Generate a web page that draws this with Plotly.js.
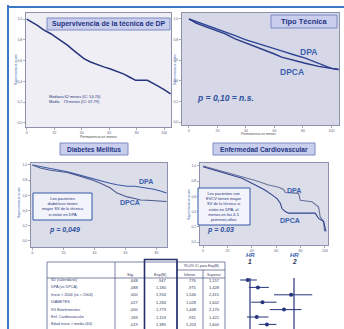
<!DOCTYPE html>
<html><head><meta charset="utf-8">
<script src="https://cdn.plot.ly/plotly-3.0.1.min.js"></script>
<style>html,body{margin:0;padding:0;background:#fff}#chart{width:344px;height:329px}</style>
</head><body><div id="chart"></div>
<script>
// ---------- DATA ----------
// Panel 1: Supervivencia de la técnica de DP
const p1Months = [0, 4, 7.8, 12, 17.5, 23, 29.6, 35, 41.7, 46, 51.4, 56, 61, 66, 70.8, 75, 79.3, 87.8, 91, 95, 100, 104.7];
const p1Surv   = [1.0, 0.97, 0.94, 0.90, 0.86, 0.81, 0.75, 0.69, 0.62, 0.59, 0.56, 0.54, 0.52, 0.495, 0.47, 0.44, 0.41, 0.41, 0.39, 0.36, 0.32, 0.28];
const p1Median = "Mediana 62 meses (IC: 54-70)";
const p1Mean   = "Media&nbsp;&nbsp;&nbsp;&nbsp;73 meses (IC: 67-79)";

// Panel 2: Tipo Técnica
const p2DpaMonths  = [0, 5, 11.5, 18, 25.5, 32, 39.5, 46, 53.5, 60, 65, 73, 81.6, 91, 100, 105];
const p2DpaSurv    = [1.0, 0.975, 0.95, 0.91, 0.876, 0.84, 0.80, 0.77, 0.74, 0.71, 0.69, 0.655, 0.62, 0.57, 0.52, 0.51];
const p2DpcaMonths = [0, 5, 11.5, 18, 25.5, 32, 39.5, 46, 53.5, 60, 65, 73, 81.6, 91, 100, 105];
const p2DpcaSurv   = [1.0, 0.96, 0.926, 0.89, 0.855, 0.81, 0.77, 0.735, 0.70, 0.66, 0.63, 0.60, 0.57, 0.54, 0.52, 0.51];

// Panel 3: Diabetes Mellitus
const p3DpaMonths  = [0, 5, 11.6, 17, 22.4, 28, 33.1, 39, 43.9, 50, 54.6, 61.1, 66, 69.7, 74, 78.3, 82, 86.5];
const p3DpaSurv    = [1.0, 0.98, 0.96, 0.935, 0.91, 0.88, 0.85, 0.82, 0.79, 0.76, 0.74, 0.72, 0.72, 0.71, 0.70, 0.68, 0.66, 0.63];
const p3DpcaMonths = [0, 5, 11.6, 17, 22.4, 28, 33.1, 39, 43.9, 50, 54.6, 58, 61.1, 66, 69.7, 74, 78.3, 86.5];
const p3DpcaSurv   = [1.0, 0.96, 0.93, 0.915, 0.90, 0.87, 0.84, 0.80, 0.76, 0.70, 0.63, 0.60, 0.58, 0.56, 0.54, 0.535, 0.53, 0.52];

// Panel 4: Enfermedad Cardiovascular
const p4DpaMonths  = [0, 10.1, 21, 32, 42.9, 53.8, 62, 66.1, 67.5, 78.4, 79.8, 89.3, 94.8, 96.1, 98.9, 99.7];
const p4DpaSurv    = [1.0, 0.957, 0.91, 0.86, 0.81, 0.75, 0.72, 0.69, 0.65, 0.64, 0.55, 0.53, 0.46, 0.33, 0.27, 0.14];
const p4DpcaMonths = [0, 10.1, 21, 32, 42.9, 51.1, 56.6, 60.7, 63.4, 64.8, 67.5, 70.2, 92, 94.8, 98.9, 100.8];
const p4DpcaSurv   = [0.99, 0.94, 0.89, 0.84, 0.75, 0.68, 0.62, 0.57, 0.51, 0.44, 0.40, 0.38, 0.38, 0.31, 0.27, 0.14];

// Tick labels
const monthTicks = [0, 20, 40, 60, 80, 100];
const monthTickText = ["0", "20", "40", "60", "80", "100"];
const survTicks = [0, 0.2, 0.4, 0.6, 0.8, 1.0];
const survTickText = ["0,0", "0,2", "0,4", "0,6", "0,8", "1,0"];

// Cox table
const coxVars  = ["IID (calendario)", "DPA (vs DPCA)", "Inicio < 2004 (vs > 2004)", "DIABETES", "IIG Bioelementos", "Enf. Cardiovascular", "Edad inicio > media (60)"];
const coxSig   = [0.648, 0.088, 0.000, 0.027, 0.000, 0.183, 0.019];
const coxExpB  = [0.947, 1.180, 1.934, 1.284, 1.773, 1.153, 1.385];
const coxLow   = [0.776, 0.975, 1.546, 1.028, 1.448, 0.931, 1.203];
const coxHigh  = [1.157, 1.428, 2.415, 1.602, 2.170, 1.421, 1.600];
const hrRefs   = [1, 2];

// ---------- STYLE / HELPERS ----------
const W = 344, H = 329;
const P = x => x / W;
const Q = y => 1 - y / H;
const NAVY = '#26347c';
const LBL = '#3a60ad';
const FONT = 'Liberation Sans, Arial, sans-serif';
const fmt = v => v.toFixed(3).replace('.', ',').replace(/^0/, '');

function xax(d0, d1, range, anchor, vals, text) {
  return {domain: [P(d0), P(d1)], range: range, anchor: anchor, tickvals: vals, ticktext: text,
    showgrid: false, zeroline: false, showline: true, mirror: true, linecolor: '#8e91ab', linewidth: 1,
    ticks: 'outside', ticklen: 2, tickwidth: 0.6, tickcolor: '#777', tickfont: {size: 3.5, color: '#5d6280'}};
}
function yax(top, bottom, range, anchor, vals, text) {
  return {domain: [Q(bottom), Q(top)], range: range, anchor: anchor, tickvals: vals, ticktext: text,
    showgrid: false, zeroline: false, showline: true, mirror: true, linecolor: '#8e91ab', linewidth: 1,
    ticks: 'outside', ticklen: 2, tickwidth: 0.6, tickcolor: '#777', tickfont: {size: 3.5, color: '#5d6280'}};
}
function line(x, y, xa, ya, color, w) {
  return {type: 'scatter', mode: 'lines', x: x, y: y, xaxis: xa, yaxis: ya, line: {color: color, width: w}, hoverinfo: 'skip'};
}

const traces = [
  line(p1Months, p1Surv, 'x', 'y', NAVY, 1.5),
  line(p2DpaMonths, p2DpaSurv, 'x2', 'y2', '#2d4596', 1.4),
  line(p2DpcaMonths, p2DpcaSurv, 'x2', 'y2', '#2a3a88', 1.4),
  line(p3DpaMonths, p3DpaSurv, 'x3', 'y3', '#3b5aa6', 1.1),
  line(p3DpcaMonths, p3DpcaSurv, 'x3', 'y3', '#4c5a8e', 1.1),
  line(p4DpaMonths, p4DpaSurv, 'x4', 'y4', '#6a739a', 1.1),
  line(p4DpcaMonths, p4DpcaSurv, 'x4', 'y4', '#34448e', 1.1),
  {type: 'scatter', mode: 'markers', x: coxExpB, y: coxVars.map((_, i) => i), xaxis: 'x5', yaxis: 'y5',
   marker: {color: NAVY, size: 4},
   error_x: {type: 'data', symmetric: false, array: coxHigh.map((h, i) => h - coxExpB[i]),
             arrayminus: coxExpB.map((e, i) => e - coxLow[i]), width: 0, thickness: 1, color: NAVY},
   hoverinfo: 'skip'}
];

const shapes = [];
const ann = [];
// frame
shapes.push({type: 'line', xref: 'paper', yref: 'paper', x0: P(8), x1: P(8), y0: Q(5), y1: Q(329), line: {color: '#3b78c8', width: 2}});
shapes.push({type: 'line', xref: 'paper', yref: 'paper', x0: P(8), x1: P(344), y0: Q(7), y1: Q(7), line: {color: '#3b78c8', width: 2}});
// panel backgrounds
[['x', 'y', '#eeeef4'], ['x2', 'y2', '#d6d8e7'], ['x3', 'y3', '#dbdde9'], ['x4', 'y4', '#dbdde9']].forEach(([xa, ya, c]) => {
  shapes.push({type: 'rect', xref: xa + ' domain', yref: ya + ' domain', x0: 0, x1: 1, y0: 0, y1: 1, fillcolor: c, line: {width: 0}, layer: 'below'});
});
// title boxes
function titleBox(x0, x1, y0, y1, text, size) {
  shapes.push({type: 'rect', xref: 'paper', yref: 'paper', x0: P(x0), x1: P(x1), y0: Q(y1), y1: Q(y0), fillcolor: '#c8ceec', line: {color: '#7e8ac4', width: 1}});
  ann.push({xref: 'paper', yref: 'paper', x: P((x0 + x1) / 2), y: Q((y0 + y1) / 2), text: '<b>' + text + '</b>', showarrow: false,
    font: {size: size, color: '#1f3384', family: FONT}, xanchor: 'center', yanchor: 'middle'});
}
titleBox(47, 170, 18, 30, 'Supervivencia de la técnica de DP', 7);
titleBox(271, 337, 15, 28, 'Tipo Técnica', 7.5);
titleBox(60, 128, 143, 155, 'Diabetes Mellitus', 6.6);
titleBox(213, 315, 143, 155, 'Enfermedad Cardiovascular', 6.6);
// note boxes
function noteBox(x0, x1, y0, y1, text) {
  shapes.push({type: 'rect', xref: 'paper', yref: 'paper', x0: P(x0), x1: P(x1), y0: Q(y1), y1: Q(y0), fillcolor: '#f3f4fb', line: {color: '#3557a8', width: 1}});
  ann.push({xref: 'paper', yref: 'paper', x: P((x0 + x1) / 2), y: Q((y0 + y1) / 2), text: text, showarrow: false, align: 'center',
    font: {size: 4, color: '#23337a', family: FONT}, xanchor: 'center', yanchor: 'middle'});
}
noteBox(33, 92, 193, 220, 'Los pacientes<br>diabéticos tienen<br>mayor SV de la técnica<br>si están en DPA');
noteBox(198, 250, 188, 225, 'Los pacientes con<br>EVCV tienen mayor<br>SV de la técnica si<br>están en DPA, al<br>menos en los 4-5<br>primeros años');
// free text
function txt(x, y, text, size, color, opts) {
  ann.push(Object.assign({xref: 'paper', yref: 'paper', x: P(x), y: Q(y), text: text, showarrow: false,
    font: {size: size, color: color, family: FONT}, xanchor: 'center', yanchor: 'middle'}, opts || {}));
}
txt(47, 100, p1Median + '<br>' + p1Mean, 3.8, '#23337a', {xanchor: 'left', align: 'left'});
txt(308, 52, '<b>DPA</b>', 8.5, LBL);
txt(292, 72, '<b>DPCA</b>', 8.5, LBL);
txt(225, 98, '<b><i>p = 0,10 = n.s.</i></b>', 8.5, '#2c4f9e');
txt(146, 181, '<b>DPA</b>', 7, LBL);
txt(130, 202, '<b>DPCA</b>', 7, LBL);
txt(64, 230, '<b><i>p = 0,049</i></b>', 7, '#2c4f9e');
txt(294, 190, '<b>DPA</b>', 7, LBL);
txt(290, 221, '<b>DPCA</b>', 7, LBL);
txt(220, 230, '<b><i>p = 0.03</i></b>', 7, '#2c4f9e');
// axis titles
txt(16, 70, 'Supervivencia acum', 3.4, '#3a5fb0', {textangle: -90});
txt(175, 70, 'Supervivencia acum', 3.4, '#3a5fb0', {textangle: -90});
txt(19, 203, 'Supervivencia acum', 3.4, '#3a5fb0', {textangle: -90});
txt(189, 205, 'Supervivencia acum', 3.4, '#3a5fb0', {textangle: -90});
txt(98, 137, 'Permanencia en meses', 3.5, '#444');
txt(258, 133.5, 'Permanencia en meses', 3.3, '#444');
// HR labels
hrRefs.forEach(h => {
  shapes.push({type: 'line', xref: 'x5', yref: 'paper', x0: h, x1: h, y0: 0, y1: Q(278), line: {color: NAVY, width: 1.2}});
  ann.push({xref: 'x5', yref: 'paper', x: h, y: Q(259.5), text: '<b><i>HR</i></b>', showarrow: false, font: {size: 6, color: LBL, family: FONT}});
  ann.push({xref: 'x5', yref: 'paper', x: h, y: Q(267), text: '<b><i>' + h + '</i></b>', showarrow: false, font: {size: 6.5, color: '#2a2f55', family: FONT}});
});
// table frame
const tl = (x0, y0, x1, y1, c, w) => shapes.push({type: 'line', xref: 'paper', yref: 'paper', x0: P(x0), x1: P(x1), y0: Q(y0), y1: Q(y1), line: {color: c || '#58628e', width: w || 0.8}});
tl(47, 262, 225, 262); tl(47, 262, 47, 329); tl(225, 262, 225, 329);
tl(115, 262, 115, 329); tl(177, 262, 177, 329); tl(203, 270, 203, 329);
tl(177, 270, 225, 270); tl(47, 278, 225, 278);
shapes.push({type: 'rect', xref: 'paper', yref: 'paper', x0: P(144.5), x1: P(177), y0: Q(331), y1: Q(259.5), line: {color: '#26306e', width: 1.6}});
// table header
const TF = {size: 4, color: '#333a5a', family: FONT};
txt(130, 274.5, 'Sig.', 4, '#333a5a');
txt(160, 274.5, 'Exp(B)', 4, '#333a5a');
txt(201, 266, '95,0% IC para Exp(B)', 3.6, '#333a5a');
txt(190, 274.5, 'Inferior', 3.6, '#333a5a');
txt(214, 274.5, 'Superior', 3.6, '#333a5a');
// table rows
coxVars.forEach((v, i) => {
  const base = {yref: 'y5', y: i, showarrow: false, font: TF, yanchor: 'middle'};
  ann.push(Object.assign({}, base, {xref: 'paper', x: P(49), text: v, xanchor: 'left', font: {size: 3.8, color: '#35457a', family: FONT}}));
  ann.push(Object.assign({}, base, {xref: 'paper', x: P(141), text: fmt(coxSig[i]), xanchor: 'right'}));
  ann.push(Object.assign({}, base, {xref: 'paper', x: P(169), text: fmt(coxExpB[i]), xanchor: 'right'}));
  ann.push(Object.assign({}, base, {xref: 'paper', x: P(199), text: fmt(coxLow[i]), xanchor: 'right'}));
  ann.push(Object.assign({}, base, {xref: 'paper', x: P(222), text: fmt(coxHigh[i]), xanchor: 'right'}));
});

const layout = {
  width: W, height: H, margin: {l: 0, r: 0, t: 0, b: 0}, showlegend: false,
  paper_bgcolor: '#ffffff', plot_bgcolor: 'rgba(0,0,0,0)', font: {family: FONT},
  xaxis:  xax(26, 171, [-0.5, 105], 'y', monthTicks, monthTickText),
  yaxis:  yax(13, 127, [-0.04, 1.06], 'x', survTicks, survTickText),
  xaxis2: xax(182, 339, [-4.9, 105.3], 'y2', monthTicks, monthTickText),
  yaxis2: yax(13, 125, [-0.029, 1.058], 'x2', survTicks, survTickText),
  xaxis3: xax(31, 167, [-0.97, 86.8], 'y3', monthTicks.slice(0, 5), monthTickText.slice(0, 5)),
  yaxis3: yax(163, 247, [-0.079, 1.026], 'x3', survTicks, survTickText),
  xaxis4: xax(200, 328, [-2.46, 102.5], 'y4', monthTicks, monthTickText),
  yaxis4: yax(163, 245, [-0.039, 1.039], 'x4', survTicks, survTickText),
  xaxis5: {domain: [P(236), 1], range: [0.682, 3.136], anchor: 'y5', visible: false},
  yaxis5: {domain: [0, Q(276)], range: [6.62, -0.54], anchor: 'x5', visible: false},
  shapes: shapes, annotations: ann
};
Plotly.newPlot('chart', traces, layout, {displayModeBar: false, staticPlot: true});
</script>
</body></html>
